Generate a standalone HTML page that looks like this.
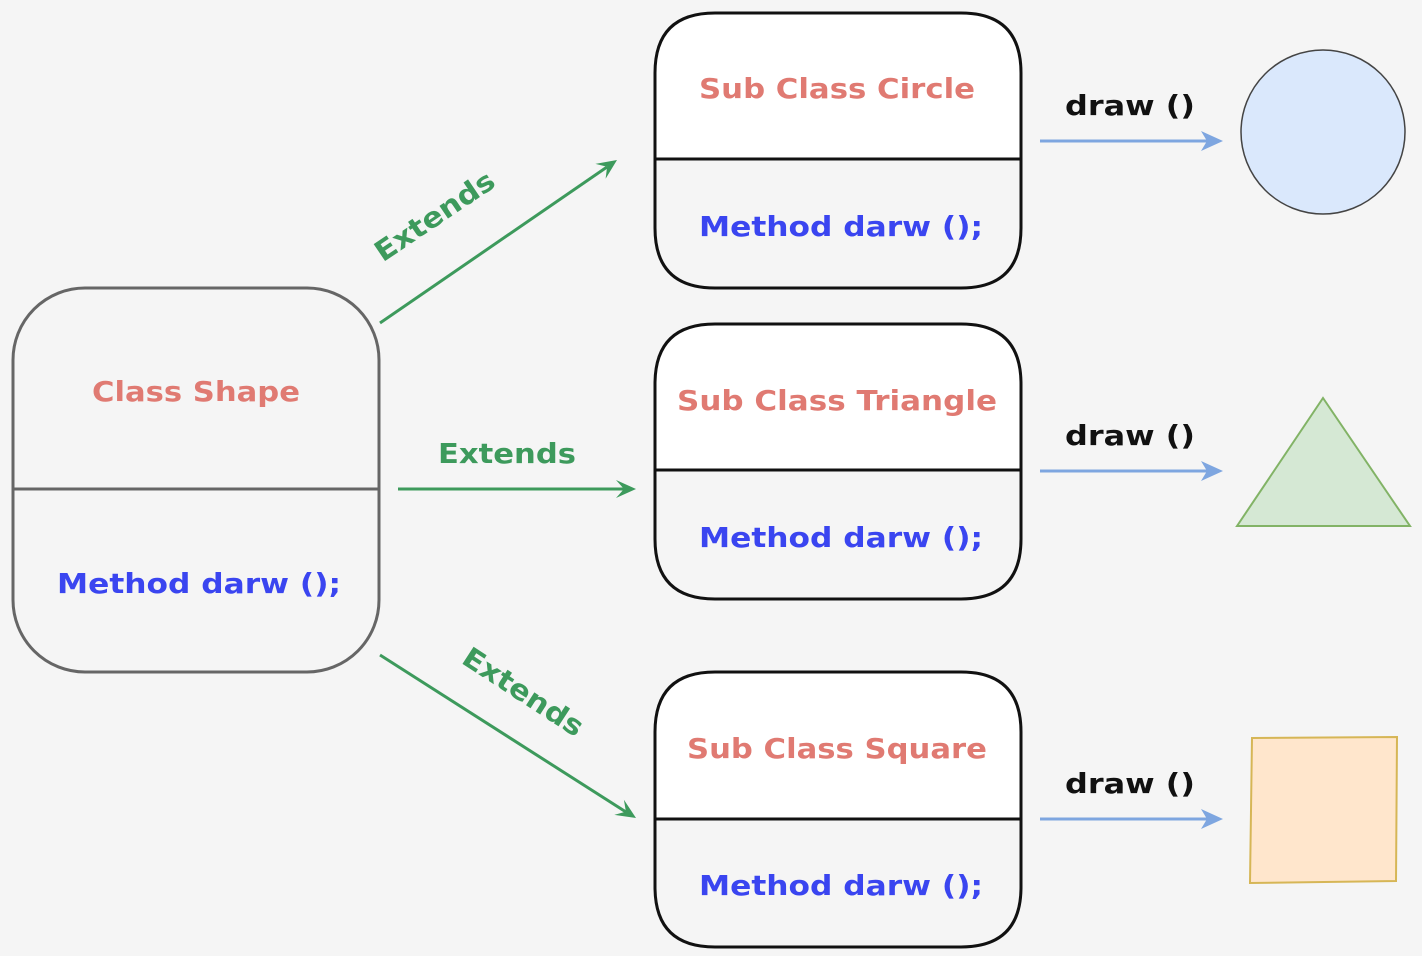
<!DOCTYPE html>
<html><head><meta charset="utf-8"><style>
html,body{margin:0;padding:0;background:#f5f5f5;}
svg{display:block;}
text{font-family:"DejaVu Sans","Liberation Sans",sans-serif;font-weight:bold;}
</style></head><body>
<svg width="1422" height="956" viewBox="0 0 1422 956" xmlns="http://www.w3.org/2000/svg">
<rect width="1422" height="956" fill="#f5f5f5"/>
<!-- Class Shape -->
<rect x="13" y="288" width="366" height="384" rx="72" fill="#f5f5f5" stroke="#666" stroke-width="3"/>
<line x1="13" y1="489" x2="379" y2="489" stroke="#666" stroke-width="3"/>
<text x="196" y="401" text-anchor="middle" font-size="28" fill="#e07a72" textLength="208" lengthAdjust="spacingAndGlyphs">Class Shape</text>
<text x="199" y="593" text-anchor="middle" font-size="28" fill="#3a45f0" textLength="284" lengthAdjust="spacingAndGlyphs">Method darw ();</text>

<!-- Sub boxes -->
<g stroke="#111" stroke-width="3">
<path d="M655,159 V73 Q655,13 715,13 H961 Q1021,13 1021,73 V159 Z" fill="#fff"/>
<path d="M655,159 V228 Q655,288 715,288 H961 Q1021,288 1021,228 V159 Z" fill="#f5f5f5"/>
<path d="M655,470 V384 Q655,324 715,324 H961 Q1021,324 1021,384 V470 Z" fill="#fff"/>
<path d="M655,470 V539 Q655,599 715,599 H961 Q1021,599 1021,539 V470 Z" fill="#f5f5f5"/>
<path d="M655,819 V732 Q655,672 715,672 H961 Q1021,672 1021,732 V819 Z" fill="#fff"/>
<path d="M655,819 V887 Q655,947 715,947 H961 Q1021,947 1021,887 V819 Z" fill="#f5f5f5"/>
</g>
<g font-size="28" text-anchor="middle">
<text x="837" y="98" fill="#e07a72" textLength="276" lengthAdjust="spacingAndGlyphs">Sub Class Circle</text>
<text x="841" y="236" fill="#3a45f0" textLength="284" lengthAdjust="spacingAndGlyphs">Method darw ();</text>
<text x="837" y="410" fill="#e07a72" textLength="320" lengthAdjust="spacingAndGlyphs">Sub Class Triangle</text>
<text x="841" y="547" fill="#3a45f0" textLength="284" lengthAdjust="spacingAndGlyphs">Method darw ();</text>
<text x="837" y="758" fill="#e07a72" textLength="300" lengthAdjust="spacingAndGlyphs">Sub Class Square</text>
<text x="841" y="895" fill="#3a45f0" textLength="284" lengthAdjust="spacingAndGlyphs">Method darw ();</text>
</g>

<!-- Extends arrows -->
<g stroke="#3d9a5c" stroke-width="3" fill="none">
<line x1="380" y1="323" x2="607" y2="167"/>
<line x1="398" y1="489" x2="624" y2="489"/>
<line x1="380" y1="655" x2="626" y2="812"/>
</g>
<g fill="#3d9a5c">
<polygon points="617,160 605.6,178.7 607.1,166.8 595.4,163.9"/>
<polygon points="636,489 616,498 624,489 616,480"/>
<polygon points="636,818 614.3,814.9 625.9,811.6 623.9,799.7"/>
</g>
<g font-size="28" fill="#3d9a5c" text-anchor="middle">
<text x="0" y="0" transform="translate(440,224) rotate(-34)" textLength="138" lengthAdjust="spacingAndGlyphs">Extends</text>
<text x="507" y="463" textLength="138" lengthAdjust="spacingAndGlyphs">Extends</text>
<text x="0" y="0" transform="translate(518,700) rotate(33)" textLength="138" lengthAdjust="spacingAndGlyphs">Extends</text>
</g>

<!-- draw arrows -->
<g stroke="#7ea6e0" stroke-width="3" fill="none">
<line x1="1040" y1="141" x2="1210" y2="141"/>
<line x1="1040" y1="471" x2="1210" y2="471"/>
<line x1="1040" y1="819" x2="1210" y2="819"/>
</g>
<g fill="#7ea6e0">
<path d="M1223,141 L1201,131 L1207,141 L1201,151 Z"/>
<path d="M1223,471 L1201,461 L1207,471 L1201,481 Z"/>
<path d="M1223,819 L1201,809 L1207,819 L1201,829 Z"/>
</g>
<g font-size="28" fill="#111" text-anchor="middle">
<text x="1130" y="115" textLength="130" lengthAdjust="spacingAndGlyphs">draw ()</text>
<text x="1130" y="445" textLength="130" lengthAdjust="spacingAndGlyphs">draw ()</text>
<text x="1130" y="793" textLength="130" lengthAdjust="spacingAndGlyphs">draw ()</text>
</g>

<!-- shapes -->
<circle cx="1323" cy="132" r="82" fill="#dae8fc" stroke="#444" stroke-width="1.5"/>
<polygon points="1237,526 1323,398 1410,526" fill="#d5e8d4" stroke="#82b366" stroke-width="2"/>
<polygon points="1252,738 1397,737 1396,881 1250,883" fill="#ffe6cc" stroke="#d6b656" stroke-width="2"/>
</svg>
</body></html>
